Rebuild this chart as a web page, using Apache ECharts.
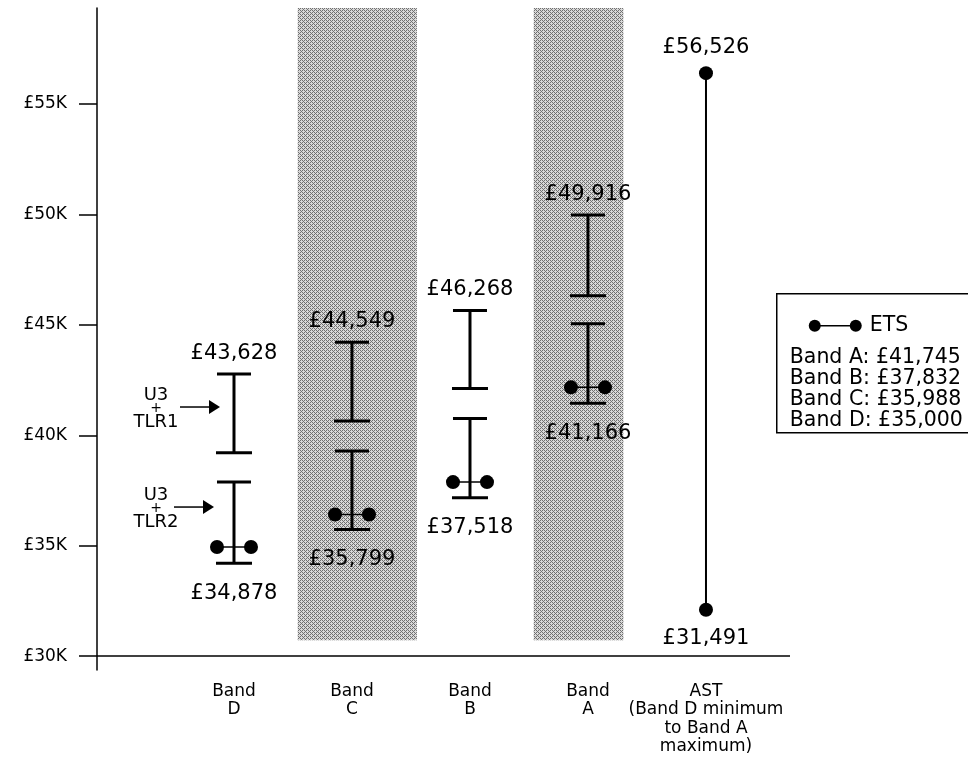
<!DOCTYPE html>
<html><head><meta charset="utf-8">
<script src="https://cdn.jsdelivr.net/npm/echarts@6/dist/echarts.min.js"></script>
<style>html,body{margin:0;padding:0;background:#fff}#c{width:968px;height:758px}</style>
</head><body><div id="c"></div>
<script>
// ---- data ----
const categories = ['Band\nD', 'Band\nC', 'Band\nB', 'Band\nA', 'AST\n(Band D minimum\nto Band A\nmaximum)'];
const categoryX = [1, 2, 3, 4, 5];
const yTicks = [30000, 35000, 40000, 45000, 50000, 55000];
// U3 + TLR1 range (upper bar) per band D, C, B, A
const tlr1Low  = [39210, 40650, 42120, 46320];
const tlr1High = [42770, 44210, 45650, 49970];
// U3 + TLR2 range (lower bar)
const tlr2Low  = [34210, 35730, 37170, 41450];
const tlr2High = [37880, 39290, 40760, 45050];
// ETS dot pair position
const etsY = [34940, 36410, 37880, 42170];
const topLabels = ['£43,628', '£44,549', '£46,268', '£49,916'];
const bottomLabels = ['£34,878', '£35,799', '£37,518', '£41,166'];
// AST range
const astRange = [32100, 56400];
const astLabels = ['£31,491', '£56,526'];
// legend
const legendBands = ['Band A', 'Band B', 'Band C', 'Band D'];
const legendEts = ['£41,745', '£37,832', '£35,988', '£35,000'];
// annotations on Band D
const annotationY = [41280, 36750];
const annotationText = ['TLR1', 'TLR2'];
// shaded columns (Band C, Band A)
const shadedRanges = [[1.54, 2.55], [3.54, 4.30]];
const shadeBottom = 30720;

const FONT = 'DejaVu Sans';
const yMin = 29370, yMax = 59350;

// dither-like pattern
const pc = document.createElement('canvas');
pc.width = 4; pc.height = 4;
const pctx = pc.getContext('2d');
const pat = [[1,0,1,0],[0,0,0,1],[1,0,1,0],[0,1,0,0]];
for (let i = 0; i < 4; i++) for (let j = 0; j < 4; j++) {
  pctx.fillStyle = pat[i][j] ? '#707070' : '#d8d8d8';
  pctx.fillRect(j, i, 1, 1);
}
const shadeFill = { image: pc, repeat: 'repeat' };

const chart = echarts.init(document.getElementById('c'), null, { renderer: 'canvas' });

function barItem(params, api) {
  const x = api.value(0), lo = api.value(1), hi = api.value(2);
  const pLo = api.coord([x, lo]), pHi = api.coord([x, hi]);
  const cx = pLo[0];
  const st = { stroke: '#000', lineWidth: 3 };
  return { type: 'group', children: [
    { type: 'line', shape: { x1: cx, y1: pLo[1], x2: cx, y2: pHi[1] }, style: st },
    { type: 'line', shape: { x1: cx - 17, y1: pHi[1], x2: cx + 17, y2: pHi[1] }, style: st },
    { type: 'line', shape: { x1: cx - 18, y1: pLo[1], x2: cx + 18, y2: pLo[1] }, style: st }
  ]};
}

const barData = [];
for (let i = 0; i < 4; i++) {
  barData.push([categoryX[i], tlr1Low[i], tlr1High[i]]);
  barData.push([categoryX[i], tlr2Low[i], tlr2High[i]]);
}

const option = {
  animation: false,
  backgroundColor: '#fff',
  grid: { left: 97, right: 178, top: 8, bottom: 88, containLabel: false },
  xAxis: {
    type: 'value', min: -0.161, max: 5.712,
    axisLine: { show: false, onZero: false }, axisTick: { show: false }, splitLine: { show: false },
    axisLabel: {
      customValues: categoryX,
      formatter: v => categories[Math.round(v) - 1],
      fontFamily: FONT, fontSize: 17, lineHeight: 18.5, color: '#000', margin: 12
    }
  },
  yAxis: {
    type: 'value', min: yMin, max: yMax,
    axisLine: { show: true, onZero: false, lineStyle: { color: '#000', width: 1.5 } },
    axisTick: { show: true, customValues: yTicks, length: 18, lineStyle: { color: '#000', width: 1.5 } },
    axisLabel: { customValues: yTicks, formatter: v => '£' + (v / 1000) + 'K', fontFamily: FONT, fontSize: 17, color: '#000', margin: 30 },
    splitLine: { show: false }
  },
  series: [
    { // shaded columns
      type: 'custom', z: 1, silent: true,
      data: shadedRanges.map(r => [r[0], r[1]]),
      encode: { x: [0, 1] },
      renderItem: (params, api) => {
        const a = api.coord([api.value(0), shadeBottom]);
        const b = api.coord([api.value(1), yMax]);
        return { type: 'rect', shape: { x: a[0], y: b[1], width: b[0] - a[0], height: a[1] - b[1] }, style: { fill: shadeFill } };
      },
      markLine: {
        silent: true, symbol: 'none', label: { show: false },
        lineStyle: { color: '#000', width: 1.5, type: 'solid' },
        data: [{ yAxis: 30000 }]
      }
    },
    { // range bars
      type: 'custom', z: 3, silent: true, data: barData, encode: { x: 0, y: [1, 2] }, renderItem: barItem
    },
    { // ETS dot pairs
      type: 'custom', z: 4, silent: true,
      data: etsY.map((v, i) => [categoryX[i], v]),
      renderItem: (params, api) => {
        const p = api.coord([api.value(0), api.value(1)]);
        return { type: 'group', children: [
          { type: 'line', shape: { x1: p[0] - 17, y1: p[1], x2: p[0] + 17, y2: p[1] }, style: { stroke: '#000', lineWidth: 1.5 } },
          { type: 'circle', shape: { cx: p[0] - 17, cy: p[1], r: 7 }, style: { fill: '#000' } },
          { type: 'circle', shape: { cx: p[0] + 17, cy: p[1], r: 7 }, style: { fill: '#000' } }
        ]};
      }
    },
    { // value labels
      type: 'custom', z: 5, silent: true,
      data: tlr1High.map((v, i) => [categoryX[i], v, tlr2Low[i]]),
      encode: { x: 0, y: [1, 2] },
      renderItem: (params, api) => {
        const i = params.dataIndex;
        const pt = api.coord([api.value(0), api.value(1)]);
        const pb = api.coord([api.value(0), api.value(2)]);
        const ts = { fontFamily: FONT, fontSize: 21, fill: '#000', align: 'center', verticalAlign: 'middle' };
        return { type: 'group', children: [
          { type: 'text', x: pt[0], y: pt[1] - 21, style: Object.assign({ text: topLabels[i] }, ts) },
          { type: 'text', x: pb[0], y: pb[1] + 30, style: Object.assign({ text: bottomLabels[i] }, ts) }
        ]};
      }
    },
    { // AST
      type: 'custom', z: 5, silent: true,
      data: [[categoryX[4], astRange[0], astRange[1]]],
      encode: { x: 0, y: [1, 2] },
      renderItem: (params, api) => {
        const pLo = api.coord([api.value(0), api.value(1)]);
        const pHi = api.coord([api.value(0), api.value(2)]);
        const ts = { fontFamily: FONT, fontSize: 21, fill: '#000', align: 'center', verticalAlign: 'middle' };
        return { type: 'group', children: [
          { type: 'line', shape: { x1: pLo[0], y1: pLo[1], x2: pHi[0], y2: pHi[1] }, style: { stroke: '#000', lineWidth: 2 } },
          { type: 'circle', shape: { cx: pLo[0], cy: pLo[1], r: 7 }, style: { fill: '#000' } },
          { type: 'circle', shape: { cx: pHi[0], cy: pHi[1], r: 7 }, style: { fill: '#000' } },
          { type: 'text', x: pHi[0], y: pHi[1] - 26, style: Object.assign({ text: astLabels[1] }, ts) },
          { type: 'text', x: pLo[0], y: pLo[1] + 29, style: Object.assign({ text: astLabels[0] }, ts) }
        ]};
      }
    },
    { // U3 + TLR annotations
      type: 'custom', z: 5, silent: true,
      data: annotationY.map(v => [categoryX[0], v]),
      renderItem: (params, api) => {
        const i = params.dataIndex;
        const p = api.coord([api.value(0), api.value(1)]);
        const tip = p[0] - (i === 0 ? 14 : 20);
        const y = p[1];
        const tx = p[0] - 78;
        const ts = { fontFamily: FONT, fontSize: 18, fill: '#000', align: 'center', verticalAlign: 'middle' };
        return { type: 'group', children: [
          { type: 'line', shape: { x1: tip - 40, y1: y, x2: tip - 9, y2: y }, style: { stroke: '#000', lineWidth: 1.5 } },
          { type: 'polygon', shape: { points: [[tip, y], [tip - 11, y - 7], [tip - 11, y + 7]] }, style: { fill: '#000' } },
          { type: 'text', x: tx, y: y - 12, style: Object.assign({ text: 'U3' }, ts) },
          { type: 'text', x: tx, y: y + 1, style: Object.assign({ text: '+' }, ts, { fontSize: 14 }) },
          { type: 'text', x: tx, y: y + 15, style: Object.assign({ text: annotationText[i] }, ts) }
        ]};
      }
    }
  ],
  graphic: [
    {
      type: 'group', left: 776, top: 293,
      children: [
        { type: 'rect', shape: { x: 0, y: 0, width: 210, height: 139 }, style: { fill: '#fff', stroke: '#000', lineWidth: 1.5 } },
        { type: 'line', shape: { x1: 38, y1: 32, x2: 79, y2: 32 }, style: { stroke: '#000', lineWidth: 1.5 } },
        { type: 'circle', shape: { cx: 38, cy: 32, r: 6 }, style: { fill: '#000' } },
        { type: 'circle', shape: { cx: 79, cy: 32, r: 6 }, style: { fill: '#000' } },
        { type: 'text', x: 93, y: 32, style: { text: 'ETS', fontFamily: FONT, fontSize: 20.5, fill: '#000', verticalAlign: 'middle' } }
      ].concat(legendBands.map((b, i) => ({
        type: 'text', x: 13, y: 64 + i * 21,
        style: { text: b + ': ' + legendEts[i], fontFamily: FONT, fontSize: 20.5, fill: '#000', verticalAlign: 'middle' }
      })))
    }
  ]
};
chart.setOption(option);
</script>
</body></html>
